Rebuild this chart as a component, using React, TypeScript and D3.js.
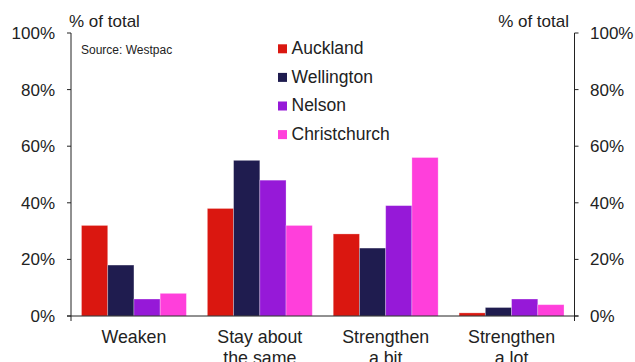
import React from "react";
import * as d3 from "d3";

const categories = [["Weaken"], ["Stay about", "the same"], ["Strengthen", "a bit"], ["Strengthen", "a lot"]];
const seriesNames = ["Auckland", "Wellington", "Nelson", "Christchurch"];
const seriesColors = ["#DA1710", "#1F1C4F", "#9619D8", "#FF3FDB"];
const auckland = [32, 38, 29, 1.1];
const wellington = [18, 55, 24, 3];
const nelson = [6, 48, 39, 6];
const christchurch = [8, 32, 56, 4];
const seriesValues = [auckland, wellington, nelson, christchurch];
const yTicks = [0, 20, 40, 60, 80, 100];

const W = 635, H = 362;
const left = 71, right = 574.5, top = 33, bottom = 316;
const font = "'Liberation Sans', Arial, sans-serif";
const txt = "#222";

export default function App() {
  const catKeys = categories.map((c) => c.join(" "));
  const x0 = d3.scaleBand<string>().domain(catKeys).range([left, right]).paddingInner(0).paddingOuter(0);
  const x1 = d3.scaleBand<string>().domain(seriesNames).range([0, x0.bandwidth()]).paddingInner(0).paddingOuter(0.4);
  const y = d3.scaleLinear().domain([0, 100]).range([bottom, top]);
  const fmt = (v: number) => `${v}%`;

  return (
    <svg width={W} height={H} style={{ position: "absolute", left: 0, top: 0, background: "#fff" }} fontFamily={font}>
      {/* bars */}
      {seriesValues.map((vals, si) =>
        vals.map((v, ci) => (
          <rect
            key={`${si}-${ci}`}
            x={(x0(catKeys[ci]) ?? 0) + (x1(seriesNames[si]) ?? 0)}
            y={y(v)}
            width={x1.bandwidth()}
            height={bottom - y(v)}
            fill={seriesColors[si]}
            stroke="rgba(255,255,255,0.35)"
            strokeWidth={0.8}
          />
        ))
      )}
      {/* axes */}
      <g stroke={txt} strokeWidth={1} fill="none">
        <line x1={left} x2={left} y1={top} y2={bottom + 5} />
        <line x1={right} x2={right} y1={top} y2={bottom + 5} />
        <line x1={left - 4} x2={right + 4} y1={bottom} y2={bottom} />
        {yTicks.map((t) => (
          <g key={t}>
            <line x1={left - 4} x2={left} y1={y(t)} y2={y(t)} />
            <line x1={right} x2={right + 4} y1={y(t)} y2={y(t)} />
          </g>
        ))}
      </g>
      {yTicks.map((t) => (
        <g key={`l${t}`} fontSize={17} fill={txt}>
          <text x={55} y={y(t)} dy="0.35em" textAnchor="end">{fmt(t)}</text>
          <text x={590} y={y(t)} dy="0.35em" textAnchor="start">{fmt(t)}</text>
        </g>
      ))}
      <text x={69} y={27} fontSize={17} fill={txt}>% of total</text>
      <text x={569} y={27} fontSize={17} fill={txt} textAnchor="end">% of total</text>
      <text x={81} y={54} fontSize={12} fill={txt}>Source: Westpac</text>
      {/* category labels */}
      {categories.map((lines, ci) => (
        <text key={ci} x={(x0(catKeys[ci]) ?? 0) + x0.bandwidth() / 2} y={343} fontSize={17.8} fill={txt} textAnchor="middle">
          {lines.map((l, li) => (
            <tspan key={li} x={(x0(catKeys[ci]) ?? 0) + x0.bandwidth() / 2} dy={li === 0 ? 0 : 20.5}>{l}</tspan>
          ))}
        </text>
      ))}
      {/* legend */}
      {seriesNames.map((n, i) => (
        <g key={n} transform={`translate(278, ${44.3 + i * 28.6})`}>
          <rect x={0} y={0} width={9} height={9} fill={seriesColors[i]} />
          <text x={13.5} y={9.7} fontSize={17.5} fill={txt}>{n}</text>
        </g>
      ))}
    </svg>
  );
}
